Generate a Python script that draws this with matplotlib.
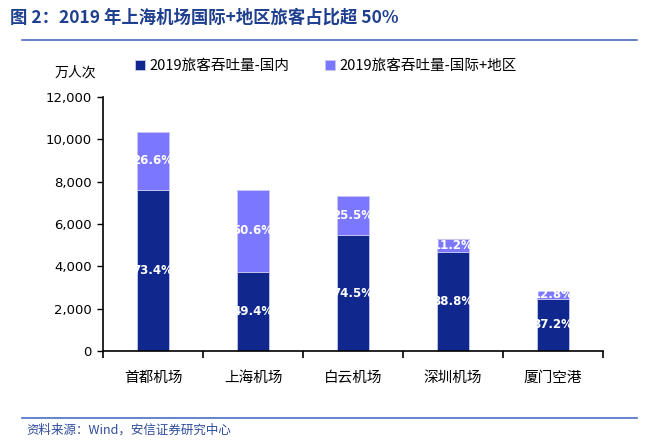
import numpy as np
import matplotlib.pyplot as plt
from matplotlib.lines import Line2D

plt.rcParams['font.family'] = ['Noto Sans CJK SC', 'DejaVu Sans']

airports = ['首都机场', '上海机场', '白云机场', '深圳机场', '厦门空港']
domestic = [7610, 3750, 5470, 4690, 2460]      # 万人次
intl = [2760, 3850, 1840, 600, 380]
pct_dom = ['73.4%', '49.4%', '74.5%', '88.8%', '87.2%']
pct_intl = ['26.6%', '50.6%', '25.5%', '11.2%', '12.8%']
yticks = [0, 2000, 4000, 6000, 8000, 10000, 12000]

c_dom = '#10288E'
c_intl = '#7B78FF'
title_c = '#1F3F8F'

fig = plt.figure(figsize=(6.59, 4.48), dpi=100)
ax = fig.add_axes([103 / 659, 1 - 351 / 448, 500 / 659, 254 / 448])

x = np.arange(len(airports))
dom = np.array(domestic)
itl = np.array(intl)
ax.bar(x, dom, width=0.32, color=c_dom, edgecolor='#C8C8F0', linewidth=0.6,
       label='2019旅客吞吐量-国内')
ax.bar(x, itl, width=0.32, bottom=dom, color=c_intl, edgecolor='#C8C8F0',
       linewidth=0.6, label='2019旅客吞吐量-国际+地区')

for i in range(len(x)):
    ax.text(x[i], dom[i] / 2, pct_dom[i], ha='center', va='center',
            color='white', fontsize=8.5, fontweight='bold', family='DejaVu Sans')
    ax.text(x[i], dom[i] + itl[i] / 2, pct_intl[i], ha='center', va='center',
            color='white', fontsize=8.5, fontweight='bold', family='DejaVu Sans')

ax.set_xlim(-0.5, 4.5)
ax.set_ylim(0, 12000)
ax.set_yticks(yticks)
ax.set_yticklabels([f'{v:,}' for v in yticks], fontsize=9.5, family='DejaVu Sans')
ax.set_xticks(np.arange(-0.5, 5, 1))
ax.set_xticklabels([])
ax.set_xticks(x, minor=True)
ax.set_xticklabels(airports, minor=True, fontsize=10.5)
ax.tick_params(axis='x', which='minor', length=0, pad=14)
ax.tick_params(axis='x', which='major', length=5, width=1.2, direction='out')
ax.tick_params(axis='y', length=4, width=1, direction='out', pad=4)
for s in ['top', 'right']:
    ax.spines[s].set_visible(False)
for s in ['left', 'bottom']:
    ax.spines[s].set_linewidth(1.2)

fig.text(75 / 659, 1 - 73 / 448, '万人次', fontsize=10, ha='center', va='center')

fig.legend(loc='upper left', bbox_to_anchor=(122 / 659, 1 - 46 / 448), ncol=2,
           frameon=False, fontsize=10.5, handlelength=0.7, handleheight=0.7,
           handletextpad=0.3, columnspacing=2.4)

fig.text(10 / 659, 1 - 18 / 448, '图 2：2019 年上海机场国际+地区旅客占比超 50%',
         fontsize=12.5, fontweight='bold', color=title_c, va='center')
fig.add_artist(Line2D([22 / 659, 637 / 659], [1 - 40 / 448, 1 - 40 / 448],
                      color='#4A6FC0', linewidth=1.2))
fig.add_artist(Line2D([22 / 659, 637 / 659], [1 - 418 / 448, 1 - 418 / 448],
                      color='#4A6FC0', linewidth=1.2))
fig.text(26 / 659, 1 - 430 / 448, '资料来源：Wind，安信证券研究中心',
         fontsize=9, color='#2E4C9C', va='center', style='italic')

fig.savefig('out.png', dpi=100)
